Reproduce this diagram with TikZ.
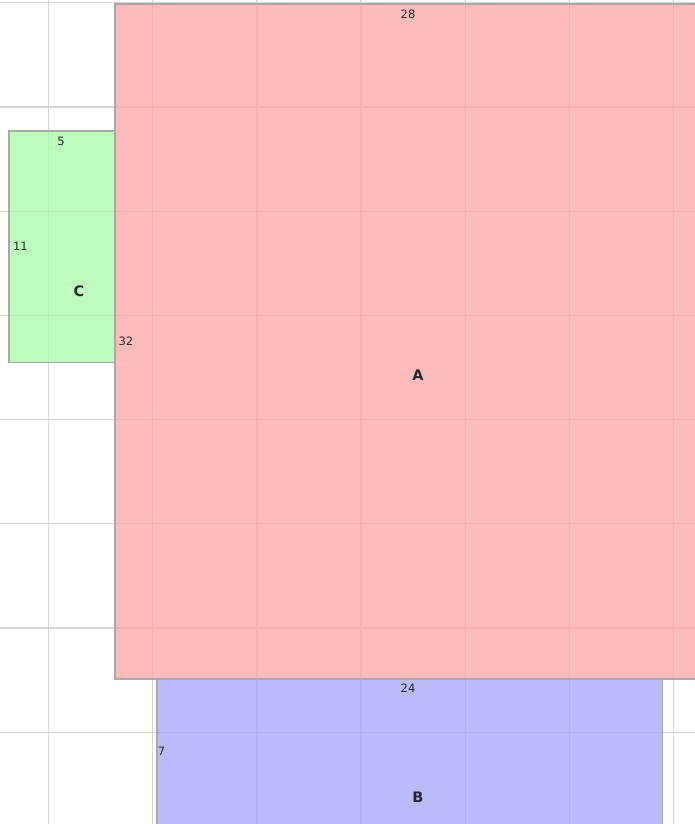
\documentclass[tikz,border=0pt]{standalone}
\usepackage{fontspec}
\setmainfont{DejaVu Sans}
\definecolor{gridc}{RGB}{214,214,214}
\definecolor{edgec}{RGB}{168,168,168}
\definecolor{pinkc}{RGB}{250,168,168}
\definecolor{greenc}{RGB}{168,250,168}
\definecolor{bluec}{RGB}{168,168,250}
\tikzset{
  gridline/.style={draw=gridc, line width=1.3pt},
  region/.style={draw=edgec, line width=1.4pt, fill opacity=0.78, draw opacity=1},
  numlbl/.style={font=\fontsize{11.5}{11.5}\selectfont, inner sep=0pt, text=black!85},
  namelbl/.style={font=\bfseries\fontsize{14.5}{14.5}\selectfont, inner sep=0pt, text=black!85}
}
\begin{document}
\begin{tikzpicture}[x=1pt,y=-1pt]
\useasboundingbox (0,0) rectangle (695,824);
\clip (0,0) rectangle (695,824);
\fill[white] (0,0) rectangle (695,824);
% grid
\foreach \k in {0,...,6} {
  \draw[gridline] ({48.5+104.2*\k},-5) -- ({48.5+104.2*\k},830);
}
\foreach \k in {0,...,7} {
  \draw[gridline] (-5,{2.8+104.2*\k}) -- (700,{2.8+104.2*\k});
}
% regions
\path[region, fill=greenc] (9,131) rectangle (115,362.5);
\path[region, fill=pinkc] (115,4) rectangle (705,679);
\path[region, fill=bluec] (157,679) rectangle (662.5,834);
% named anchors
\coordinate (Cc) at (79,291);
\coordinate (Ac) at (418,375);
\coordinate (Bc) at (418,797);
% labels
\node[namelbl] (labC) at (Cc) {C};
\node[namelbl] (labA) at (Ac) {A};
\node[namelbl] (labB) at (Bc) {B};
\node[numlbl] (n28) at (408,14) {28};
\node[numlbl] (n5) at (61,141) {5};
\node[numlbl] (n11) at (20.5,246) {11};
\node[numlbl] (n32) at (126,341) {32};
\node[numlbl] (n24) at (408,688.5) {24};
\node[numlbl] (n7) at (161.5,751) {7};
\end{tikzpicture}
\end{document}
